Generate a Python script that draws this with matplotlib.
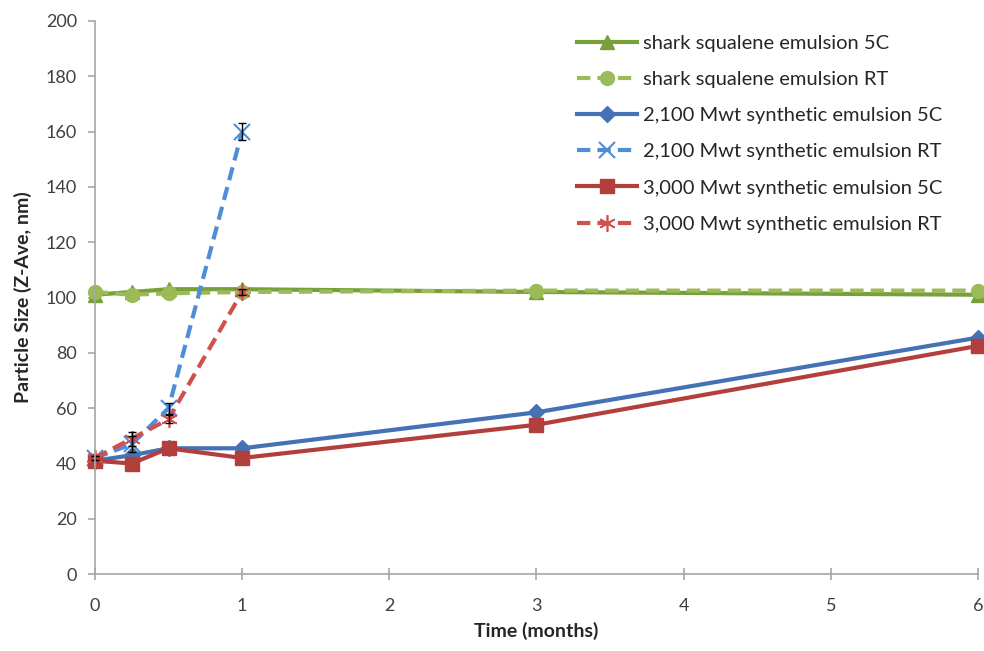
import matplotlib.pyplot as plt

plt.rcParams['font.family'] = ['Lato', 'DejaVu Sans']

# time points (months)
t_all = [0, 0.25, 0.5, 1, 3, 6]
t_rt = [0, 0.25, 0.5, 1]

# particle size (Z-Ave, nm)
shark_5c = [101, 102, 103, 103, 102, 101]
shark_rt = [102, 101, 101.5, 102, 102.5, 102.5]
syn2100_5c = [41, 43, 45.5, 45.5, 58.5, 85.5]
syn2100_rt = [42, 47, 60, 160]
syn2100_rt_err = [0.8, 3, 2, 3]
syn3000_5c = [41, 40, 45.5, 42, 54, 82.5]
syn3000_rt = [42, 49, 56, 102]
syn3000_rt_err = [0.8, 2.5, 1.5, 1]

dash = (0, (3.2, 1.7))

fig = plt.figure(figsize=(9.84, 6.51), dpi=100)
ax = fig.add_axes([0.0965, 0.118, 0.8974, 0.85])

ax.plot(t_all, shark_5c, color='#77A03B', lw=3, marker='^', ms=10,
        label='shark squalene emulsion 5C')
ax.plot(t_all, shark_rt, color='#9BBB59', lw=3, ls=dash, marker='o', ms=10,
        label='shark squalene emulsion RT')
ax.plot(t_all, syn2100_5c, color='#4472B4', lw=3, marker='D', ms=8,
        label='2,100 Mwt synthetic emulsion 5C')
ax.plot(t_rt, syn2100_rt, color='#4F8DD6', lw=3, ls=dash, marker='x', ms=11, mew=1.5,
        label='2,100 Mwt synthetic emulsion RT')
ax.plot(t_all, syn3000_5c, color='#B33F3D', lw=3, marker='s', ms=10,
        label='3,000 Mwt synthetic emulsion 5C')
ax.plot(t_rt, syn3000_rt, color='#D0504D', lw=3, ls=dash, marker=(6, 2, 0), ms=12, mew=1.2,
        label='3,000 Mwt synthetic emulsion RT')
ax.errorbar(t_rt, syn2100_rt, yerr=syn2100_rt_err, fmt='none', ecolor='black',
            elinewidth=1, capsize=3)
ax.errorbar(t_rt, syn3000_rt, yerr=syn3000_rt_err, fmt='none', ecolor='black',
            elinewidth=1, capsize=3)

ax.set_xlim(0, 6)
ax.set_ylim(0, 200)
ax.set_yticks(range(0, 201, 20))
ax.set_xticks(range(0, 7))
for s in ['top', 'right']:
    ax.spines[s].set_visible(False)
for s in ['left', 'bottom']:
    ax.spines[s].set_color('#A6A6A6')
    ax.spines[s].set_linewidth(1.2)
ax.tick_params(axis='both', colors='#A6A6A6', labelcolor='#404040', labelsize=13,
               length=5, width=1.2)
ax.tick_params(axis='y', pad=8)
ax.tick_params(axis='x', direction='inout', length=8, pad=13)
ax.set_xlabel('Time (months)', fontsize=14, fontweight='bold', color='#262626', labelpad=6)
ax.set_ylabel('Particle Size (Z-Ave, nm)', fontsize=14, fontweight='bold', color='#262626',
              labelpad=10)
for sp in ax.spines.values():
    sp.set_clip_on(False)
for ln in ax.lines:
    ln.set_clip_on(False)

leg = ax.legend(loc='upper right', bbox_to_anchor=(0.98, 1.008), frameon=False,
                fontsize=14.5, handlelength=2.95, labelspacing=0.95, handletextpad=0.3)
for txt in leg.get_texts():
    txt.set_color('#262626')

plt.savefig('out.png', dpi=100)
